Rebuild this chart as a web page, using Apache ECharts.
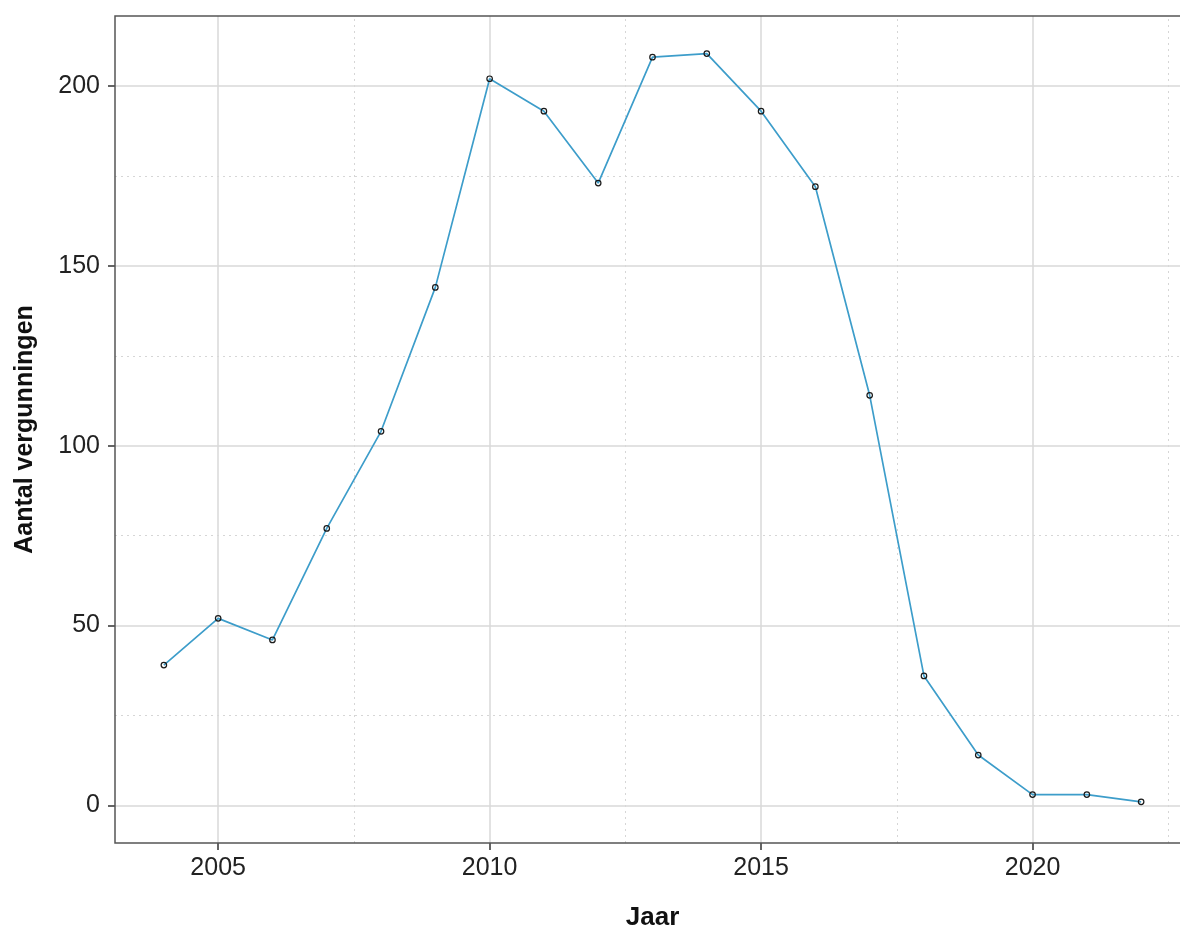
<!DOCTYPE html>
<html>
<head>
<meta charset="utf-8">
<script src="https://cdn.jsdelivr.net/npm/echarts@6/dist/echarts.min.js"></script>
<style>
html,body{margin:0;padding:0;background:#fff;}
#chart{width:1180px;height:929px;}
</style>
</head>
<body>
<div id="chart"></div>
<script>
const years = [2004,2005,2006,2007,2008,2009,2010,2011,2012,2013,2014,2015,2016,2017,2018,2019,2020,2021,2022];
const permits = [39,52,46,77,104,144,202,193,173,208,209,193,172,114,36,14,3,3,1];
const xMajorTicks = [2005,2010,2015,2020];
const xMinorTicks = [2007.5,2012.5,2017.5,2022.5];
const yMajorTicks = [0,50,100,150,200];
const yMinorTicks = [25,75,125,175];
const xTitle = 'Jaar';
const yTitle = 'Aantal vergunningen';

const font = '"Liberation Sans", Arial, Helvetica, sans-serif';
const chart = echarts.init(document.getElementById('chart'));

const majorStyle = {color:'#d9d9d9', width:1.5, type:'solid'};
const minorStyle = {color:'#d6d6d6', width:1, type:[2,4]};

const gridLines = [];
xMinorTicks.forEach(v => gridLines.push({xAxis:v, lineStyle:minorStyle}));
yMinorTicks.forEach(v => gridLines.push({yAxis:v, lineStyle:minorStyle}));
xMajorTicks.forEach(v => gridLines.push({xAxis:v, lineStyle:majorStyle}));
yMajorTicks.forEach(v => gridLines.push({yAxis:v, lineStyle:majorStyle}));

chart.setOption({
  animation:false,
  backgroundColor:'#fff',
  grid:{left:115, top:16, right:-10, bottom:86, outerBoundsMode:'none', containLabel:false,
        show:true, borderColor:'#555', borderWidth:1.5, backgroundColor:'transparent', z:10},
  xAxis:{
    type:'value', min:2003.1, max:2022.9,
    name:xTitle, nameLocation:'middle', nameGap:62,
    nameTextStyle:{fontFamily:font, fontSize:26, fontWeight:'bold', color:'#111'},
    axisLine:{show:false, onZero:false},
    axisTick:{show:true, customValues:xMajorTicks, length:7, lineStyle:{color:'#333', width:1.5}},
    axisLabel:{customValues:xMajorTicks, formatter:v => String(v), fontFamily:font, fontSize:25, color:'#222', margin:13},
    splitLine:{show:false}
  },
  yAxis:{
    type:'value', min:-10.45, max:219.45,
    name:yTitle, nameLocation:'middle', nameGap:77, nameRotate:90,
    nameTextStyle:{fontFamily:font, fontSize:25, fontWeight:'bold', color:'#111'},
    axisLine:{show:false, onZero:false},
    axisTick:{show:true, customValues:yMajorTicks, length:7, lineStyle:{color:'#333', width:1.5}},
    axisLabel:{customValues:yMajorTicks, formatter:v => String(v), fontFamily:font, fontSize:25, color:'#222', margin:15},
    splitLine:{show:false}
  },
  series:[
    {
      type:'line', data:[], silent:true, z:1,
      markLine:{silent:true, symbol:['none','none'], label:{show:false}, animation:false, data:gridLines}
    },
    {
      type:'line', z:5,
      data:years.map((y,i)=>[y, permits[i]]),
      lineStyle:{color:'#3d9dca', width:1.7},
      symbol:'circle', symbolSize:5.5, showSymbol:true,
      itemStyle:{color:'rgba(255,255,255,0)', borderColor:'#1a1a1a', borderWidth:1.2},
      emphasis:{disabled:true}
    }
  ]
});
</script>
</body>
</html>
